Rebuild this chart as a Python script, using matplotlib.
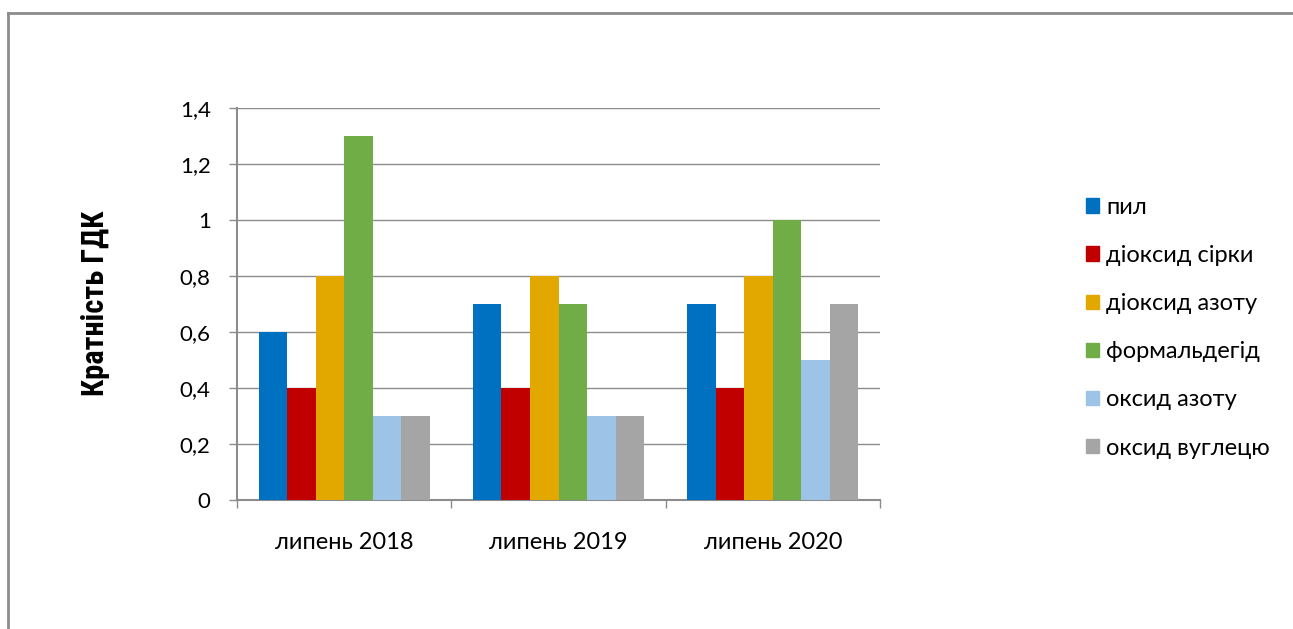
import numpy as np
import matplotlib.pyplot as plt
from matplotlib.lines import Line2D
from matplotlib.patches import Patch

categories = ['липень 2018', 'липень 2019', 'липень 2020']
series = ['пил', 'діоксид сірки', 'діоксид азоту', 'формальдегід',
          'оксид азоту', 'оксид вуглецю']
values = [
    [0.6, 0.7, 0.7],   # пил
    [0.4, 0.4, 0.4],   # діоксид сірки
    [0.8, 0.8, 0.8],   # діоксид азоту
    [1.3, 0.7, 1.0],   # формальдегід
    [0.3, 0.3, 0.5],   # оксид азоту
    [0.3, 0.3, 0.7],   # оксид вуглецю
]
colors = ['#0070C0', '#C00000', '#E3A800', '#70AD47', '#9DC3E6', '#A5A5A5']

plt.rcParams['font.family'] = ['Lato', 'DejaVu Sans']

W, H = 1293, 629
fig = plt.figure(figsize=(W / 100, H / 100), dpi=100)
ax = fig.add_axes([237 / W, 1 - 500 / H, 643 / W, 392 / H])

# outer frame (only top and left edges visible)
fig.add_artist(Line2D([8 / W, 8 / W], [0, 1 - 13 / H], transform=fig.transFigure,
                      color='#8c8c8c', lw=2))
fig.add_artist(Line2D([8 / W, 1], [1 - 13 / H, 1 - 13 / H], transform=fig.transFigure,
                      color='#8c8c8c', lw=2))

x = np.arange(len(categories))
bw = 0.133
n = len(series)
for i, (name, vals) in enumerate(zip(series, values)):
    offs = (i - (n - 1) / 2) * bw
    ax.bar(x + offs, vals, width=bw, color=colors[i], label=name, zorder=3)

ax.set_xlim(-0.5, 2.5)
ax.set_ylim(0, 1.4)
ax.set_yticks(np.arange(0, 1.41, 0.2))
ax.set_yticklabels(['0', '0,2', '0,4', '0,6', '0,8', '1', '1,2', '1,4'])
ax.set_xticks(x)
ax.set_xticklabels(categories)
ax.set_xticks([-0.5, 0.5, 1.5, 2.5], minor=True)
ax.tick_params(axis='x', which='major', length=0, pad=23, labelsize=17)
ax.tick_params(axis='x', which='minor', length=6, color='#8c8c8c', width=1)
ax.tick_params(axis='y', length=6, color='#8c8c8c', width=1, pad=13, labelsize=16)

ax.yaxis.grid(True, color='#8c8c8c', lw=1, zorder=0)
for s in ['top', 'right']:
    ax.spines[s].set_visible(False)
for s in ['left', 'bottom']:
    ax.spines[s].set_color('#8c8c8c')
    ax.spines[s].set_linewidth(1.5)

fig.text(95 / W, 1 - 303 / H, 'Кратність ГДК', rotation=90, ha='center', va='center',
         fontsize=22, fontweight='bold', fontstretch='condensed',
         family=['Liberation Sans Narrow', 'DejaVu Sans Condensed',
                 'Roboto Condensed', 'DejaVu Sans'])

handles = [Patch(color=c) for c in colors]
fig.legend(handles, series, loc='upper left', bbox_to_anchor=(1074 / W, 1 - 185 / H),
           frameon=False, fontsize=17, handlelength=0.55, handleheight=0.55,
           handletextpad=0.3, labelspacing=1.15, borderpad=0)

fig.savefig('out.png', dpi=100)
